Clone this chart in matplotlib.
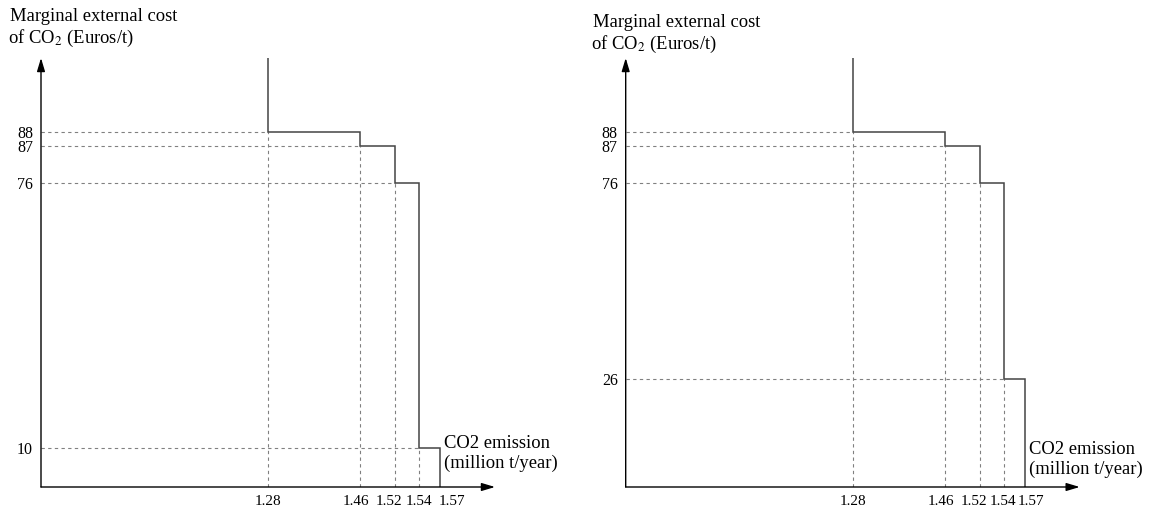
import numpy as np
import matplotlib
matplotlib.use('Agg')
import matplotlib.pyplot as plt
from matplotlib.transforms import ScaledTranslation

plt.rcParams['font.family'] = ['Liberation Serif', 'DejaVu Serif']
plt.rcParams['mathtext.fontset'] = 'stix'

# CO2 emission breakpoints (million t/year) and step heights (Euros/t)
emission_edges = [1.28, 1.46, 1.52, 1.54, 1.57]
cost_left = [88, 87, 76, 10]
cost_right = [88, 87, 76, 26]

# the original axes are schematic, not linear: value -> fraction of axis
x_knots = [0, 1.28, 1.46, 1.52, 1.54, 1.57, 1.65]
x_frac = [0, 0.5, 0.7026, 0.7797, 0.8326, 0.8789, 1.0]
y_knots = [0, 10, 26, 76, 87, 88, 100]
y_frac = [0, 0.0902, 0.251, 0.7093, 0.7956, 0.8268, 1.0]

W, H = 1153, 513


def knot_scale(knots, frac):
    fwd = lambda v: np.interp(v, knots, frac)
    inv = lambda f: np.interp(f, frac, knots)
    return fwd, inv


def draw_panel(fig, ax, costs, label_shift):
    ax.set_xscale('function', functions=knot_scale(x_knots, x_frac))
    ax.set_yscale('function', functions=knot_scale(y_knots, y_frac))
    ax.set_xlim(x_knots[0], x_knots[-1])
    ax.set_ylim(y_knots[0], y_knots[-1])

    guide = dict(color='#808080', lw=0.8, ls=(0, (3, 3)))
    for e, c in zip(emission_edges, costs):
        ax.plot([0, e], [c, c], **guide)
        ax.plot([e, e], [0, c], **guide)

    step_x = np.repeat(emission_edges, 2)
    step_y = np.concatenate([[y_knots[-1]], np.repeat(costs, 2), [0]])
    ax.plot(step_x, step_y, color='#444444', lw=1.1, solid_joinstyle='miter')

    for s in ax.spines.values():
        s.set_visible(False)
    arrow = dict(arrowstyle='-|>,head_length=1.0,head_width=0.3', color='black',
                 lw=1.0, mutation_scale=8, shrinkA=0, shrinkB=0)
    ax.annotate('', xy=(1, 0), xytext=(0, 0), xycoords='axes fraction', arrowprops=arrow)
    ax.annotate('', xy=(0, 1), xytext=(0, 0), xycoords='axes fraction', arrowprops=arrow)

    ax.set_xticks(emission_edges, labels=['%.2f' % e for e in emission_edges])
    ax.set_yticks(costs, labels=['%d' % c for c in costs])
    ax.minorticks_off()
    ax.tick_params(axis='x', length=0, pad=5.5, labelsize=11)
    ax.tick_params(axis='y', length=0, pad=5.8, labelsize=11.5)

    # the crowded labels at the right end are nudged apart, as in the original
    for tick, dx in zip(ax.xaxis.get_major_ticks(), label_shift):
        lab = tick.label1
        lab.set_transform(lab.get_transform() + ScaledTranslation(dx / 100, 0, fig.dpi_scale_trans))


fig = plt.figure(figsize=(W / 100, H / 100), dpi=100)

panels = [(41, cost_left, 10, 0, [0, -4, -6, 0, 12]),
          (625.7, cost_right, 592.7, 6.3, [0, -4, -6, -1, 6])]
for x0, costs, lab_x, dy, shift in panels:
    ax = fig.add_axes([x0 / W, (H - 487) / H, 454 / W, 429 / H])
    draw_panel(fig, ax, costs, shift)
    fig.text(lab_x / W, 1 - (20.7 + dy) / H, 'Marginal external cost',
             fontsize=13.4, va='baseline')
    fig.text((lab_x - 1.5) / W, 1 - (42.7 + dy) / H, r'of CO$_2$ (Euros/t)',
             fontsize=13.4, va='baseline')
    xl = x0 + 403
    fig.text(xl / W, 1 - (447.5 + dy) / H, 'CO2 emission', fontsize=13.4, va='baseline')
    fig.text(xl / W, 1 - (468 + dy) / H, '(million t/year)', fontsize=13.4, va='baseline')

fig.savefig('out.png', dpi=100)
